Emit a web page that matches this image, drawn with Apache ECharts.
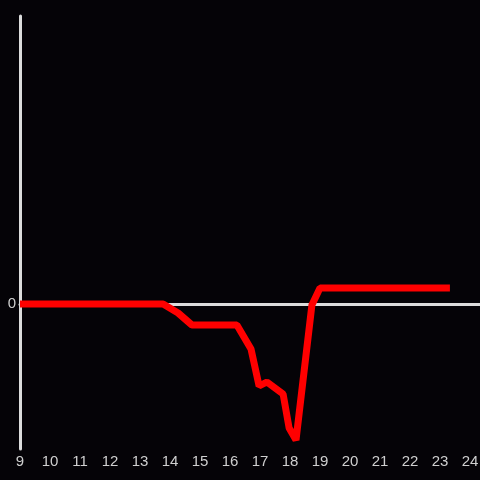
<!DOCTYPE html>
<html>
<head>
<meta charset="utf-8">
<script src="https://cdn.jsdelivr.net/npm/echarts@6/dist/echarts.min.js"></script>
<style>
  html, body { margin: 0; padding: 0; background: #050307; }
  #chart { width: 480px; height: 480px; }
</style>
</head>
<body>
<div id="chart"></div>
<script>
// hour of day and the value
var hours  = [9, 13.77, 14.27, 14.73, 16.23, 16.7, 16.97, 17.23, 17.77, 17.97, 18.2, 18.73, 19.0, 23.33];
var values = [0, 0, -9, -21, -21, -45, -82, -78, -90, -124, -136, -1, 16, 16];
var xTicks = [9, 24];

var points = [];
for (var i = 0; i < hours.length; i++) {
	points.push([hours[i], values[i]]);
}

var axisColor = '#dcdcdc';
var labelColor = '#cfcfcf';

var myChart = echarts.init(document.getElementById('chart'));
var option = {
	backgroundColor: '#050307',
	animation: false,
	grid: {left: 20, right: 0, top: 16, bottom: 31, containLabel: false, outerBoundsMode: 'none'},
	xAxis: [
		{
			type: 'value',
			min: xTicks[0],
			max: 24.333,
			interval: 1,
			axisLine: {show: false, onZero: false},
			axisTick: {show: false},
			splitLine: {show: false},
			axisLabel: {
				color: labelColor,
				fontSize: 15,
				fontFamily: 'Liberation Sans',
				margin: 5,
				formatter: function(v){ return Number.isInteger(v) ? String(v) : ''; }
			}
		},
		{
			type: 'value',
			min: xTicks[0],
			max: 24.333,
			axisLine: {show: true, onZero: true, lineStyle: {color: axisColor, width: 3}},
			axisTick: {show: false},
			axisLabel: {show: false},
			splitLine: {show: false}
		}
	],
	yAxis: {
		type: 'value',
		min: -145,
		max: 288,
		axisLine: {show: true, lineStyle: {color: axisColor, width: 3}},
		axisTick: {show: false},
		splitLine: {show: false},
		axisLabel: {
			color: labelColor,
			fontSize: 15,
			fontFamily: 'Liberation Sans',
			margin: 4,
			formatter: function(v){ return v === 0 ? '0' : ''; }
		}
	},
	series: [{
		type: 'line',
		xAxisIndex: 0,
		data: points,
		symbol: 'none',
		lineStyle: {color: '#ff0000', width: 7},
		z: 5
	}]
};
myChart.setOption(option);
</script>
</body>
</html>
